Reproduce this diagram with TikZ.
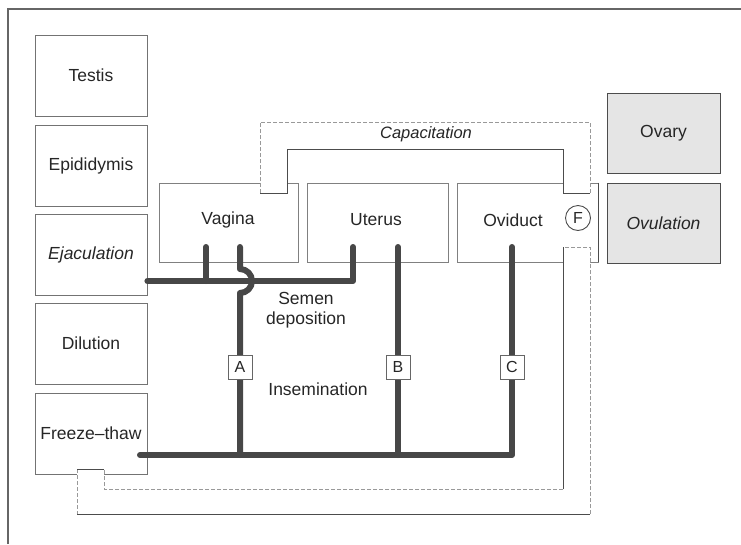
\documentclass[tikz,border=0pt]{standalone}
\usepackage{fontspec}
\setmainfont{Liberation Sans}
\begin{document}
\begin{tikzpicture}[x=1pt,y=-1pt,
  txt/.style={font=\fontsize{17.5}{21}\selectfont, inner sep=0pt, text=black!85},
  lbox/.style={txt, draw=black!55, line width=0.8pt, minimum width=112pt, minimum height=81pt},
  mbox/.style={draw=black!50, line width=0.8pt, minimum width=139pt, minimum height=79pt, inner sep=0pt},
  gbox/.style={txt, draw=black!70, line width=1pt, fill=black!10, minimum width=113pt, minimum height=80pt},
  pipe/.style={line width=6pt, draw=black!72, line cap=round, line join=round},
  solidedge/.style={draw=black!70, line width=0.9pt},
  lightedge/.style={draw=black!40, line width=0.8pt, dash pattern=on 4pt off 2pt},
  letterbox/.style={txt, draw=black!60, fill=white, line width=0.8pt, minimum width=24pt, minimum height=24pt, font=\fontsize{16}{18}\selectfont}
]
\useasboundingbox (0,0) rectangle (741,544);
% outer frame
\draw[black!60, line width=1.2pt] (8,544) -- (8,9) -- (741,9);

% left column
\node[lbox] (testis) at (91,75.5) {Testis};
\node[lbox] (epid) at (91,165.5) {Epididymis};
\node[lbox] (ejac) at (91,254.5) {\itshape Ejaculation};
\node[lbox] (dil) at (91,343.5) {Dilution};
\node[lbox] (freeze) at (91,433.5) {Freeze--thaw};

% female tract boxes
\node[mbox] (vagina) at (228.5,222.5) {};
\node[mbox, minimum width=141pt] (uterus) at (377.5,222.5) {};
\node[mbox, minimum width=141pt] (oviduct) at (527.5,222.5) {};
\draw[black!70, line width=1pt] (oviduct.north east) -- (oviduct.south east);
\node[txt] (vagtext) at (228,220) {Vagina};
\node[txt] (utetext) at (376,220) {Uterus};
\node[txt] (ovitext) at (513,220) {Oviduct};
\node[draw=black!70, line width=0.9pt, circle, minimum size=25pt, inner sep=0pt, txt, font=\fontsize{16}{18}\selectfont] (F) at (578,218) {F};

% ovary / ovulation
\node[gbox] (ovary) at (663.5,133) {Ovary};
\node[gbox] (ovul) at (663.5,223.5) {\itshape Ovulation};

% capacitation pipe
\fill[white] (260,193) -- (260,122) -- (590,122) -- (590,193) -- (563,193) -- (563,149) -- (287,149) -- (287,193) -- cycle;
\draw[lightedge] (260,193) -- (260,122) -- (590,122) -- (590,193);
\draw[solidedge] (260,193) -- (287,193) -- (287,149) -- (563,149) -- (563,193) -- (590,193);
\node[txt, font=\fontsize{16.5}{20}\selectfont\itshape] (cap) at (426,134) {Capacitation};

% lower loop pipe (freeze-thaw to oviduct)
\fill[white] (77,469) -- (77,514) -- (590,514) -- (590,247) -- (563,247) -- (563,489) -- (104,489) -- (104,469) -- cycle;
\draw[lightedge] (77,469) -- (77,514);
\draw[solidedge] (77,514) -- (590,514);
\draw[lightedge] (590,514) -- (590,247) -- (563,247);
\draw[solidedge] (563,247) -- (563,489);
\draw[lightedge] (563,489) -- (104,489) -- (104,469);
\draw[solidedge] (104,469) -- (77,469);

% named connector points
\coordinate (vagL) at (206,247);
\coordinate (vagA) at (240,247);
\coordinate (uteIn) at (353,247);
\coordinate (uteB) at (398,247);
\coordinate (oviC) at (512,247);
\coordinate (semen) at (206,281);
\coordinate (ftOut) at (140,455);

% semen deposition pipes
\draw[pipe] (ejac.east |- semen) -- (uteIn |- semen) -- (uteIn);
\draw[pipe] (semen) -- (vagL);

% insemination pipes
\draw[pipe] (ftOut) -- (oviC |- ftOut) -- (oviC);
\draw[pipe] (uteB |- ftOut) -- (uteB);
\draw[pipe] (vagA |- ftOut) -- (240,293) arc[start angle=-90, end angle=90, radius=12pt] -- (vagA);

\node[letterbox] (A) at (240,367) {A};
\node[letterbox] (B) at (398,367) {B};
\node[letterbox] (C) at (512,367) {C};

\node[txt, align=center] (sd) at (306,310) {Semen\\[-1pt]deposition};
\node[txt] (insem) at (318,389) {Insemination};
\end{tikzpicture}
\end{document}
